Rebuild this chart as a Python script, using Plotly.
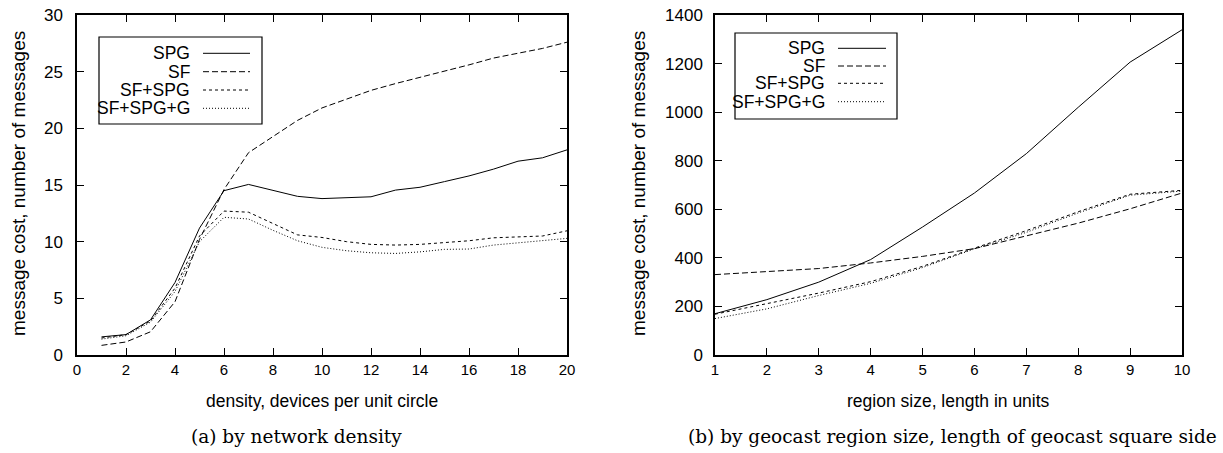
import plotly.graph_objects as go

W, H = 1223, 453

# ---------------- data ----------------
series_names = ["SPG", "SF", "SF+SPG", "SF+SPG+G"]

density = list(range(1, 21))
spg_a = [1.6, 1.8, 3.1, 6.4, 11.2, 14.5, 15.05, 14.55, 14.0, 13.8,
         13.87, 13.96, 14.55, 14.8, 15.3, 15.8, 16.4, 17.1, 17.4, 18.1]
sf_a = [0.85, 1.15, 2.05, 4.7, 10.2, 14.6, 17.85, 19.25, 20.7, 21.8,
        22.6, 23.35, 23.95, 24.5, 25.0, 25.6, 26.2, 26.6, 27.05, 27.6]
sfspg_a = [1.5, 1.8, 3.0, 5.9, 10.5, 12.7, 12.6, 11.6, 10.6, 10.37,
           10.0, 9.76, 9.7, 9.76, 9.9, 10.08, 10.34, 10.43, 10.5, 10.96]
sfspgg_a = [1.4, 1.7, 2.9, 5.6, 10.0, 12.15, 12.0, 11.0, 10.08, 9.5,
            9.2, 9.02, 8.96, 9.1, 9.32, 9.35, 9.7, 9.9, 10.08, 10.29]

region = list(range(1, 11))
spg_b = [170, 228, 300, 393, 527, 667, 829, 1020, 1206, 1339]
sf_b = [331, 345, 356, 379, 406, 438, 491, 543, 602, 667]
sfspg_b = [168, 210, 255, 302, 365, 440, 512, 590, 662, 678]
sfspgg_b = [150, 190, 245, 295, 360, 437, 505, 585, 658, 675]

x_ticks_a = list(range(0, 21, 2))
y_ticks_a = list(range(0, 31, 5))
x_ticks_b = list(range(1, 11))
y_ticks_b = list(range(0, 1401, 200))

x_title_a = "density, devices per unit circle"
x_title_b = "region size, length in units"
y_title = "message cost, number of messages"
caption_a = "(a) by network density"
caption_b = "(b) by geocast region size, length of geocast square side"

# ---------------- styles ----------------
dashes = ["solid", "6px,3px", "3px,3px", "1px,2px"]
SANS = "Liberation Sans, Arial, Helvetica, sans-serif"
SERIF = "DejaVu Serif, Liberation Serif, serif"


def px(xp):
    return xp / W


def py(yp):
    return 1 - yp / H


fig = go.Figure()

for name, ys, d in zip(series_names, [spg_a, sf_a, sfspg_a, sfspgg_a], dashes):
    fig.add_trace(go.Scatter(x=density, y=ys, name=name, mode="lines",
                             line=dict(color="black", width=1, dash=d),
                             xaxis="x", yaxis="y", showlegend=False))
for name, ys, d in zip(series_names, [spg_b, sf_b, sfspg_b, sfspgg_b], dashes):
    fig.add_trace(go.Scatter(x=region, y=ys, name=name, mode="lines",
                             line=dict(color="black", width=1, dash=d),
                             xaxis="x2", yaxis="y2", showlegend=False))

ydom = [py(355), py(15)]
common = dict(showline=True, linecolor="black", linewidth=1.5, mirror="allticks",
              ticks="inside", ticklen=7, tickwidth=1, tickcolor="black",
              showgrid=False, zeroline=False, automargin=False)

fig.update_layout(
    template="none",
    width=W, height=H, autosize=False,
    margin=dict(l=0, r=0, t=0, b=0, pad=0),
    paper_bgcolor="white", plot_bgcolor="white",
    showlegend=False,
    xaxis=dict(domain=[px(77), px(567)], range=[0, 20], tickvals=x_ticks_a,
               anchor="y", tickfont=dict(family=SANS, size=15, color="black"),
               **common),
    yaxis=dict(domain=ydom, range=[0, 30], tickvals=y_ticks_a, anchor="x",
               tickfont=dict(family=SANS, size=17, color="black"),
               ticklabelstandoff=9, **common),
    xaxis2=dict(domain=[px(715), px(1182)], range=[1, 10], tickvals=x_ticks_b,
                anchor="y2", tickfont=dict(family=SANS, size=15, color="black"),
                **common),
    yaxis2=dict(domain=ydom, range=[0, 1400], tickvals=y_ticks_b, anchor="x2",
                tickfont=dict(family=SANS, size=17, color="black"),
                ticklabelstandoff=7, **common),
)

P = dict(xref="paper", yref="paper", showarrow=False)
ann = []
# axis titles
ann.append(dict(x=px(322), y=py(401), text=x_title_a, xanchor="center", yanchor="middle",
                font=dict(family=SANS, size=17.5, color="black"), **P))
ann.append(dict(x=px(948), y=py(401), text=x_title_b, xanchor="center", yanchor="middle",
                font=dict(family=SANS, size=17.5, color="black"), **P))
ann.append(dict(x=px(18), y=py(184), text=y_title, textangle=-90,
                xanchor="center", yanchor="middle",
                font=dict(family=SANS, size=19, color="black"), **P))
ann.append(dict(x=px(638), y=py(184), text=y_title, textangle=-90,
                xanchor="center", yanchor="middle",
                font=dict(family=SANS, size=19, color="black"), **P))
# captions
ann.append(dict(x=px(296), y=py(436), text=caption_a, xanchor="center", yanchor="middle",
                font=dict(family=SERIF, size=18.5, color="black"), **P))
ann.append(dict(x=px(952), y=py(436), text=caption_b, xanchor="center", yanchor="middle",
                font=dict(family=SERIF, size=18.5, color="black"), **P))

shapes = []
# legends (box, right-aligned labels, line samples to the right)
legends = [
    dict(box=(99, 37, 262, 124), text_right=192, line=(203, 250),
         rows=[53.3, 71.7, 90, 108.3]),
    dict(box=(735, 33, 897, 119), text_right=827, line=(838, 886),
         rows=[48.3, 66, 83.3, 101.7]),
]
for lg in legends:
    x0, y0, x1, y1 = lg["box"]
    shapes.append(dict(type="rect", xref="paper", yref="paper",
                       x0=px(x0), x1=px(x1), y0=py(y1), y1=py(y0),
                       line=dict(color="black", width=1.2), fillcolor="white",
                       layer="above"))
    for name, d, ry in zip(series_names, dashes, lg["rows"]):
        ann.append(dict(x=px(lg["text_right"]), y=py(ry), text=name,
                        xanchor="right", yanchor="middle",
                        font=dict(family=SANS, size=17.5, color="black"), **P))
        shapes.append(dict(type="line", xref="paper", yref="paper",
                           x0=px(lg["line"][0]), x1=px(lg["line"][1]),
                           y0=py(ry), y1=py(ry), layer="above",
                           line=dict(color="black", width=1, dash=d)))

fig.update_layout(annotations=ann, shapes=shapes)
fig.write_html("out.html",
               config={"displayModeBar": False},
               post_script="document.body.style.margin='0px';"
                           "document.body.style.padding='0px';")
